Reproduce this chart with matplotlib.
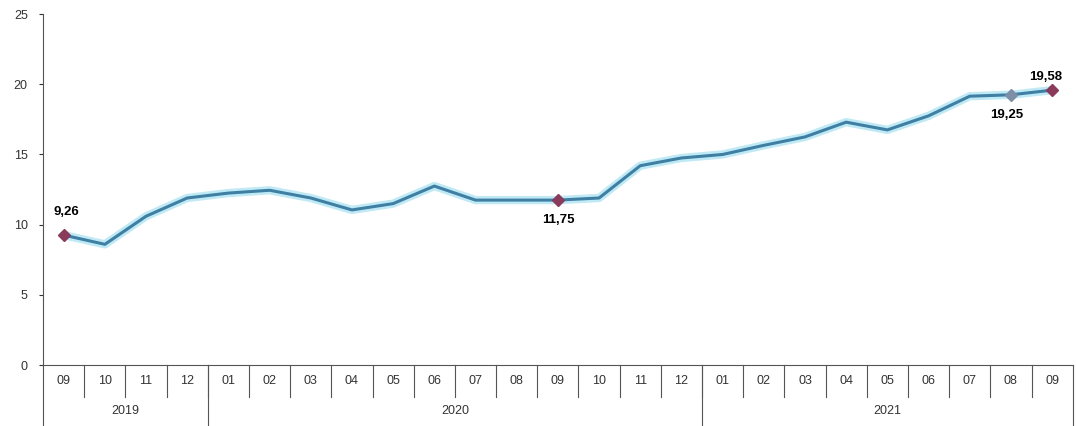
import matplotlib.pyplot as plt
import numpy as np

months = ['09', '10', '11', '12',
          '01', '02', '03', '04', '05', '06', '07', '08', '09', '10', '11', '12',
          '01', '02', '03', '04', '05', '06', '07', '08', '09']
years = ['2019', '2020', '2021']
year_counts = [4, 12, 9]
values = [9.26, 8.6, 10.6, 11.9,
          12.25, 12.45, 11.9, 11.05, 11.5, 12.75, 11.75, 11.75, 11.75, 11.9, 14.2, 14.75,
          15.0, 15.65, 16.25, 17.3, 16.75, 17.75, 19.15, 19.25, 19.58]
marked = [0, 12, 23, 24]
labels = {0: '9,26', 12: '11,75', 23: '19,25', 24: '19,58'}

plt.rcParams['font.family'] = ['Liberation Sans', 'DejaVu Sans']
fig = plt.figure(figsize=(10.77, 4.26), dpi=100)
ax = fig.add_axes([0.040, 0.143, 0.956, 0.824])

x = np.arange(len(values))
ax.plot(x, values, color='#bfeaf5', lw=6, solid_capstyle='round', zorder=2)
ax.plot(x, values, color='#3f7fa3', lw=2.2, zorder=3)
for i in marked:
    c = '#7d8fa6' if i == 23 else '#8a3b5c'
    ax.plot(x[i], values[i], marker='D', ms=6, color=c, zorder=4)

ax.annotate(labels[0], (x[0], values[0]), xytext=(2, 12), textcoords='offset points',
            ha='center', va='bottom', fontsize=9.5, fontweight='bold')
ax.annotate(labels[12], (x[12], values[12]), xytext=(0, -10), textcoords='offset points',
            ha='center', va='top', fontsize=9.5, fontweight='bold')
ax.annotate(labels[23], (x[23], values[23]), xytext=(-3, -10), textcoords='offset points',
            ha='center', va='top', fontsize=9.5, fontweight='bold')
ax.annotate(labels[24], (x[24], values[24]), xytext=(-5, 5), textcoords='offset points',
            ha='center', va='bottom', fontsize=9.5, fontweight='bold')

ax.set_xlim(-0.5, len(values) - 0.5)
ax.set_ylim(0, 25)
ax.set_yticks(range(0, 26, 5))
ax.tick_params(axis='y', labelsize=9, colors='#333333', length=3, pad=8)
ax.set_xticks([])
for s in ['top', 'right']:
    ax.spines[s].set_visible(False)
ax.spines['left'].set_color('#555555')
ax.spines['bottom'].set_color('#555555')

# two-level category axis
tr = ax.get_xaxis_transform()
for i, m in enumerate(months):
    ax.text(i, -0.045, m, transform=tr, ha='center', va='center', fontsize=9, color='#333333')
for i in range(1, len(months)):
    ax.plot([i - 0.5, i - 0.5], [0, -0.09], transform=tr, color='#555555', lw=0.8, clip_on=False)
start = -0.5
for y, n in zip(years, year_counts):
    ax.text(start + n / 2, -0.131, y, transform=tr, ha='center', va='center', fontsize=9, color='#333333')
    ax.plot([start, start], [0, -0.175], transform=tr, color='#555555', lw=0.8, clip_on=False)
    start += n
ax.plot([start, start], [0, -0.175], transform=tr, color='#555555', lw=0.8, clip_on=False)

fig.savefig('out.png')
